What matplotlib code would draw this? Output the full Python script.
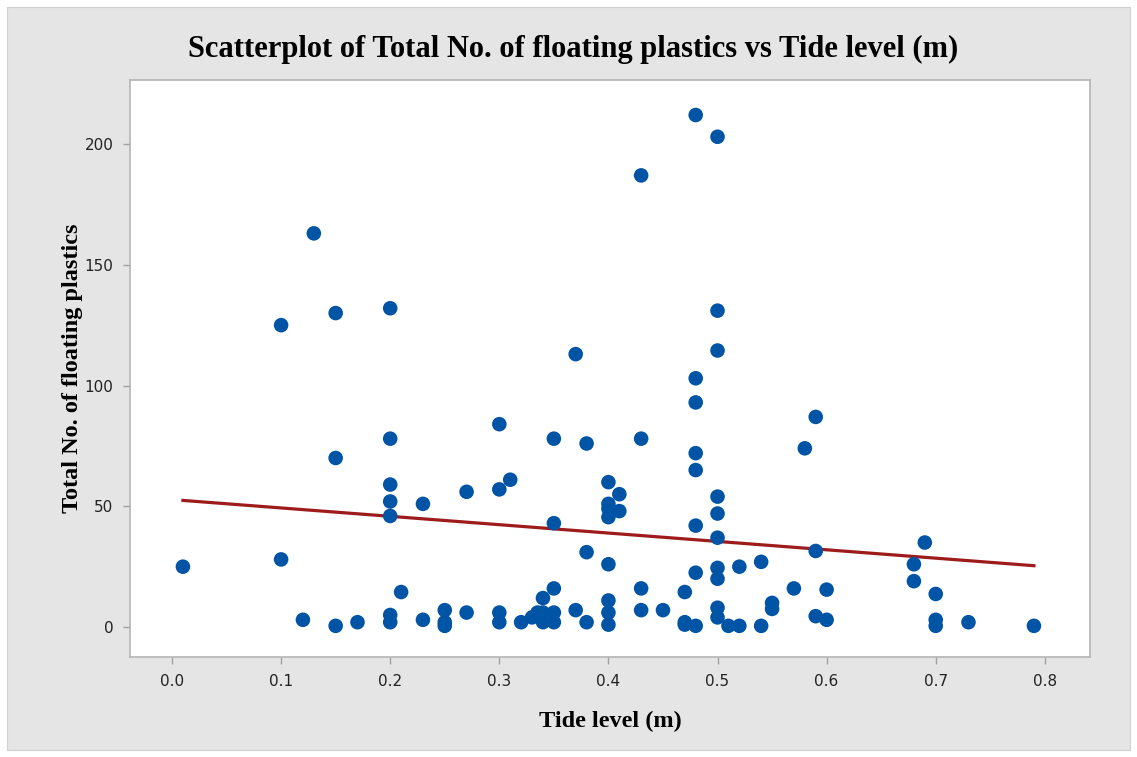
import matplotlib.pyplot as plt
from matplotlib.patches import Rectangle
import numpy as np

# Tide level (m) and total number of floating plastics
tide_level = [
    0.01, 0.10, 0.10, 0.12, 0.13, 0.15, 0.15, 0.15, 0.17,
    0.20, 0.20, 0.20, 0.20, 0.20, 0.20, 0.20, 0.21, 0.23, 0.23,
    0.25, 0.25, 0.25, 0.27, 0.27,
    0.30, 0.30, 0.30, 0.30, 0.31, 0.32, 0.33, 0.335,
    0.34, 0.34, 0.34, 0.35, 0.35, 0.35, 0.35, 0.35,
    0.37, 0.37, 0.38, 0.38, 0.38,
    0.40, 0.40, 0.40, 0.40, 0.40, 0.40, 0.40, 0.40, 0.41, 0.41,
    0.43, 0.43, 0.43, 0.43, 0.45, 0.47, 0.47, 0.47,
    0.48, 0.48, 0.48, 0.48, 0.48, 0.48, 0.48, 0.48,
    0.50, 0.50, 0.50, 0.50, 0.50, 0.50, 0.50, 0.50, 0.50, 0.50,
    0.51, 0.52, 0.52, 0.54, 0.54, 0.55, 0.55, 0.57, 0.58,
    0.59, 0.59, 0.59, 0.60, 0.60,
    0.68, 0.68, 0.69, 0.70, 0.70, 0.70, 0.73, 0.79,
]
total_plastics = [
    25, 125, 28, 3, 163, 130, 70, 0.5, 2,
    132, 78, 59, 52, 46, 5, 2, 14.5, 51, 3,
    7, 2, 0.5, 56, 6,
    84, 57, 6, 2, 61, 2, 4, 6,
    12, 6, 2, 78, 43, 16, 6, 2,
    113, 7, 76, 31, 2,
    60, 51, 49, 45.5, 26, 11, 6, 1, 55, 48,
    187, 78, 16, 7, 7, 14.5, 2, 1,
    212, 103, 93, 72, 65, 42, 22.5, 0.5,
    203, 131, 114.5, 54, 47, 37, 24.5, 20, 8, 4,
    0.5, 25, 0.5, 27, 0.5, 10, 7.5, 16, 74,
    87, 31.5, 4.5, 15.5, 3,
    26, 19, 35, 13.7, 3, 0.5, 2, 0.5,
]

x_ticks = [0.0, 0.1, 0.2, 0.3, 0.4, 0.5, 0.6, 0.7, 0.8]
y_ticks = [0, 50, 100, 150, 200]

serif = ["Liberation Serif", "DejaVu Serif"]

fig = plt.figure(figsize=(11.37, 7.57), dpi=100)
fig.patch.set_facecolor("white")
# grey panel behind the plot, with a thin white margin
fig.patches.append(Rectangle((7 / 1137, 7 / 757), 1123 / 1137, 743 / 757,
                             transform=fig.transFigure, facecolor="#e5e5e5",
                             edgecolor="#d0d0d0", linewidth=0.8, zorder=-1))

ax = fig.add_axes([130 / 1137, 100 / 757, 960 / 1137, 577 / 757])
ax.set_facecolor("white")

x = np.array(tide_level)
y = np.array(total_plastics)
ax.scatter(x, y, s=110, color="#0054a6", edgecolors="none", zorder=3)

# least-squares fit line, as in the original scatterplot
slope, intercept = np.polyfit(x, y, 1)
xfit = np.array([x.min(), x.max()])
ax.plot(xfit, intercept + slope * xfit, color="#9e1b1b", linewidth=2.3, zorder=2)

ax.set_xlim(-0.0385, 0.8414)
ax.set_ylim(-12.4, 226.5)
ax.set_xticks(x_ticks)
ax.set_xticklabels([f"{v:.1f}" for v in x_ticks])
ax.set_yticks(y_ticks)

for side in ["left", "bottom", "right", "top"]:
    ax.spines[side].set_color("#b4b4b4")
    ax.spines[side].set_linewidth(1.2)
ax.tick_params(direction="out", length=5, width=1, color="#a0a0a0",
               labelcolor="#222222", pad=7)
for lab in ax.get_xticklabels() + ax.get_yticklabels():
    lab.set_family("DejaVu Sans")
    lab.set_fontsize(11)

ax.set_xlabel("Tide level (m)", family=serif, fontweight="bold", fontsize=17.5, labelpad=16)
ax.set_ylabel("Total No. of floating plastics", family=serif, fontweight="bold",
              fontsize=17.5, labelpad=1)
fig.text(573 / 1137, 1 - 49 / 757,
         "Scatterplot of Total No. of floating plastics vs Tide level (m)",
         family=serif, fontweight="bold", fontsize=22, ha="center", va="center")

fig.savefig("out.png", dpi=100)
